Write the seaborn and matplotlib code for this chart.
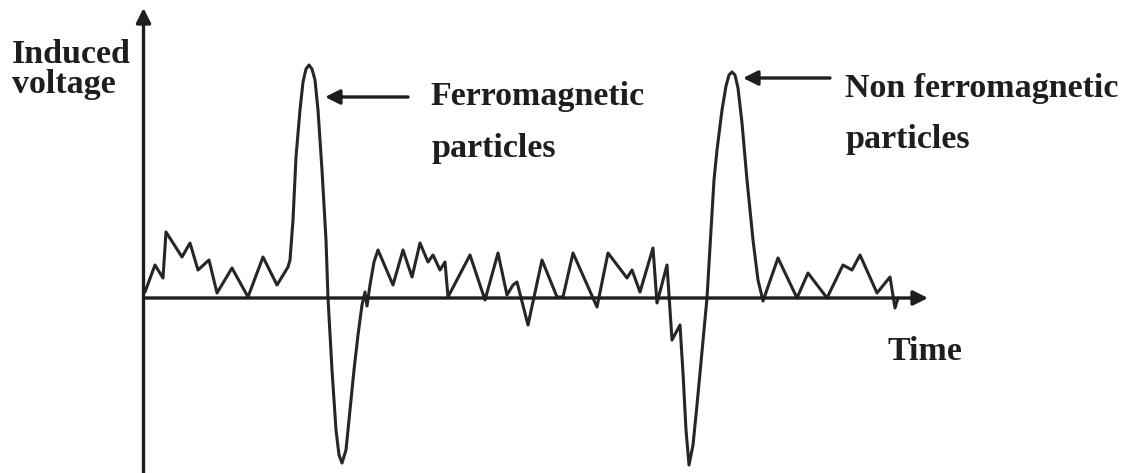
import matplotlib
matplotlib.use("Agg")
import matplotlib.pyplot as plt
import seaborn as sns

# waveform (arbitrary time / voltage units)
time = [0, 10, 18, 21, 37, 45, 53, 64, 72, 87, 103, 118, 132, 143,
        145, 148, 151, 155, 158, 161, 164, 167, 170, 173, 177, 181, 183, 187, 191, 194,
        197, 201, 205, 209, 213, 217, 220, 222, 225, 229, 233,
        248, 258, 267, 275, 283, 288, 295, 300, 303, 325, 340, 353, 362, 368,
        372, 383, 397, 412, 418, 428, 452, 463, 482, 487, 495, 508, 512, 522,
        527, 535, 538, 541, 544, 548, 552, 555, 559, 562, 566, 569, 572, 577,
        581, 584, 587, 590, 593, 597, 602, 608, 613, 618,
        633, 652, 663, 682, 698, 707, 715, 732, 745, 750, 753]
voltage = [6, 33, 20, 66, 41, 55, 28, 38, 5, 30, 1, 41, 13, 31,
           38, 78, 141, 188, 216, 229, 233, 229, 218, 188, 128, 58, 0, -72, -132, -157,
           -165, -152, -112, -72, -37, -7, 6, -8, 13, 36, 48,
           13, 48, 21, 55, 36, 43, 28, 36, 1, 43, -2, 45, 3, 13,
           16, -27, 38, 1, 1, 45, -9, 45, 20, 28, 6, 50, -5, 33,
           -42, -27, -75, -132, -167, -147, -107, -75, -32, 0, 68, 118, 148, 188,
           212, 223, 226, 223, 210, 175, 118, 58, 18, -3,
           40, 0, 25, 0, 33, 28, 43, 5, 21, -10, 0]

labels = {
    "ferro": ["Ferromagnetic", "particles"],
    "nonferro": ["Non ferromagnetic", "particles"],
    "ylabel": ["Induced", "voltage"],
    "xlabel": "Time",
}

ink = "#1e1e1e"

sns.set_style("white")
plt.rcParams["font.family"] = ["Liberation Serif", "DejaVu Serif"]

fig = plt.figure(figsize=(11.31, 4.73), dpi=100)
ax = fig.add_axes([0, 0, 1, 1])

sns.lineplot(x=time, y=voltage, sort=False, estimator=None,
             color="#262626", linewidth=2.2, ax=ax)

ax.set_xlim(-145, 986)
ax.set_ylim(-175, 298)
ax.axis("off")

# axes drawn as arrows
arrow = dict(arrowstyle="-|>", color=ink, lw=2.4, mutation_scale=22,
             shrinkA=0, shrinkB=0)
ax.annotate("", xy=(783, 0), xytext=(0, 0), arrowprops=arrow)
ax.annotate("", xy=(-1.5, 290), xytext=(-1.5, -175), arrowprops=arrow)

# pointer arrows
ax.annotate("", xy=(180, 201), xytext=(263, 201), arrowprops=arrow)
ax.annotate("", xy=(598, 220), xytext=(685, 220), arrowprops=arrow)

txt = dict(fontsize=24.5, fontweight="bold", color=ink, va="baseline", ha="left")
ax.text(285, 193, labels["ferro"][0], **txt)
ax.text(286, 141, labels["ferro"][1], **txt)
ax.text(700, 201, labels["nonferro"][0], **txt)
ax.text(700, 150, labels["nonferro"][1], **txt)
ax.text(-133, 235, labels["ylabel"][0], **txt)
ax.text(-133, 205, labels["ylabel"][1], **txt)
ax.text(743, -62, labels["xlabel"], **txt)

fig.savefig("out.png", dpi=100)
